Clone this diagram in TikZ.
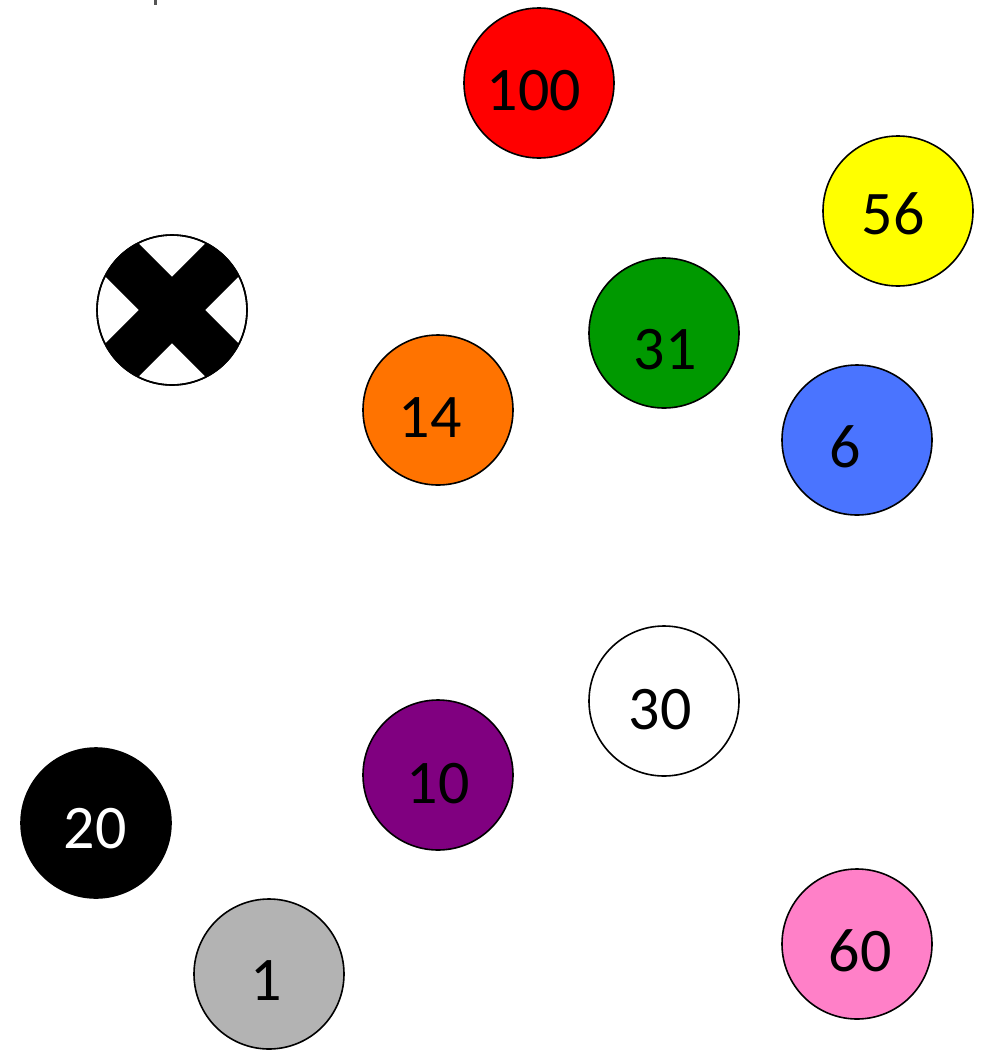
\documentclass[tikz,border=0pt]{standalone}
\usepackage{fontspec}
\setmainfont{Carlito}
\definecolor{cred}{HTML}{FF0000}
\definecolor{cyellow}{HTML}{FFFF00}
\definecolor{cgreen}{HTML}{009900}
\definecolor{corange}{HTML}{FF7300}
\definecolor{cblue}{HTML}{4A74FF}
\definecolor{cpurple}{HTML}{800080}
\definecolor{cgray}{HTML}{B3B3B3}
\definecolor{cpink}{HTML}{FF80C8}
\definecolor{cmark}{HTML}{555555}
\tikzset{
  ball/.style={circle, draw=black, line width=1.6pt, minimum size=150pt, inner sep=0pt},
  num/.style={inner sep=0pt, text height=40pt, text depth=0pt, font=\fontsize{62}{62}\selectfont},
}
\begin{document}
\begin{tikzpicture}[x=1pt,y=-1pt]
\useasboundingbox (0,0) rectangle (985,1050);
\fill[cmark] (154,0) rectangle (157,5);
% balls
\node[ball, fill=cred]    (b100) at (539,83)  {};
\node[ball, fill=cyellow] (b56)  at (898,211) {};
\node[ball, fill=white]   (bx)   at (172,310) {};
\node[ball, fill=cgreen]  (b31)  at (664,333) {};
\node[ball, fill=corange] (b14)  at (438,410) {};
\node[ball, fill=cblue]   (b6)   at (857,440) {};
\node[ball, fill=white]   (b30)  at (664,701) {};
\node[ball, fill=cpurple] (b10)  at (438,775) {};
\node[ball, fill=black]   (b20)  at (96,823)  {};
\node[ball, fill=cgray]   (b1)   at (269,974) {};
\node[ball, fill=cpink]   (b60)  at (857,944) {};
% cross
\begin{scope}
  \clip (bx.center) circle (75pt);
  \fill[black, rotate around={45:(bx.center)}] ([xshift=-90pt,yshift=-23.5pt]bx.center) rectangle ([xshift=90pt,yshift=23.5pt]bx.center);
  \fill[black, rotate around={-45:(bx.center)}] ([xshift=-90pt,yshift=-23.5pt]bx.center) rectangle ([xshift=90pt,yshift=23.5pt]bx.center);
\end{scope}
\draw[line width=1.6pt] (bx.center) circle (75pt);
% labels
\node[num] (t100) at (534,90)  {100};
\node[num] (t56)  at (893,214) {56};
\node[num] (t31)  at (665,349) {31};
\node[num] (t14)  at (430,417) {14};
\node[num] (t6)   at (845,447) {6};
\node[num] (t30)  at (660,709) {30};
\node[num] (t10)  at (438,783) {10};
\node[num, text=white] (t20) at (95,828) {20};
\node[num] (t1)   at (266,980) {1};
\node[num] (t60)  at (860,951) {60};
\end{tikzpicture}
\end{document}
